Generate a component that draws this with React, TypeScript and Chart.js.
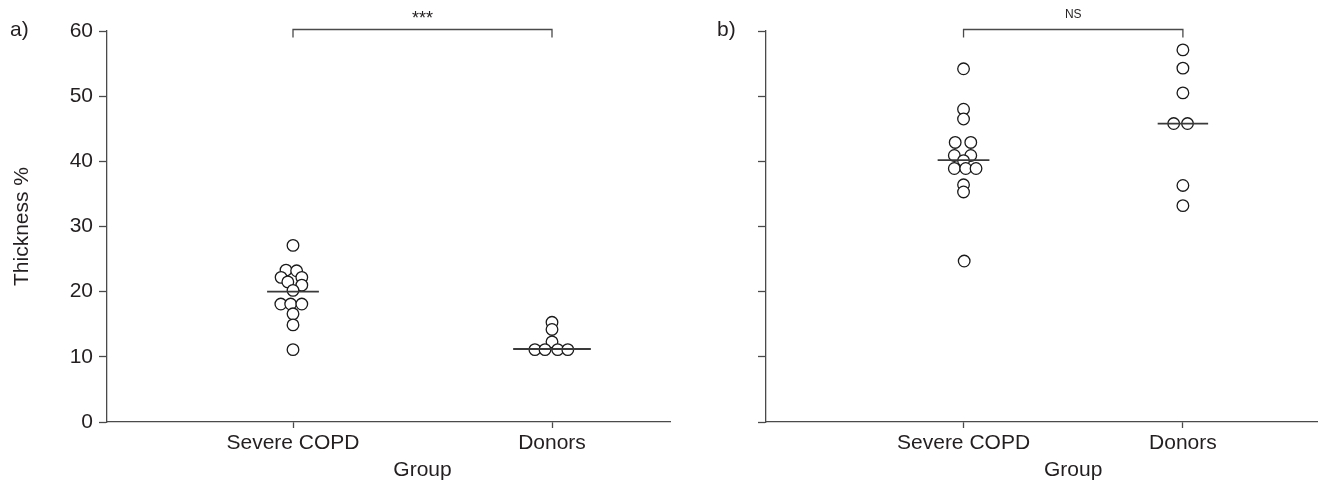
import React, { useEffect, useRef } from 'react';
import { Chart, registerables } from 'chart.js';

Chart.register(...registerables);

// ---------- data ----------
const categories = ['Severe COPD', 'Donors'];
const yTicks = [0, 10, 20, 30, 40, 50, 60];

// panel a
const copdA = [27.1, 23.3, 23.2, 22.2, 22.2, 21.5, 21.0, 20.2, 18.1, 18.1, 18.1, 16.6, 14.9, 11.1];
const copdAJitter = [0, -0.027, 0.014, -0.046, 0.034, -0.02, 0.034, 0, -0.047, -0.009, 0.034, 0, 0, 0];
const donorsA = [15.3, 14.2, 12.3, 11.1, 11.1, 11.1, 11.1];
const donorsAJitter = [0, 0, 0, -0.066, -0.027, 0.022, 0.061];
const mediansA = [20.0, 11.2];
const sigA = '***';

// panel b
const copdB = [54.2, 48.0, 46.5, 42.9, 42.9, 40.9, 40.9, 40.1, 38.9, 38.9, 38.9, 36.4, 35.3, 24.7];
const copdBJitter = [0, 0, 0, -0.038, 0.033, -0.042, 0.033, 0, -0.042, 0.01, 0.057, 0, 0, 0.003];
const donorsB = [57.1, 54.3, 50.5, 45.8, 45.8, 36.3, 33.2];
const donorsBJitter = [0, 0, 0, -0.042, 0.021, 0, 0];
const mediansB = [40.2, 45.8];
const sigB = 'NS';

// ---------- style ----------
const FONT = "'Liberation Sans', Arial, Helvetica, sans-serif";
const INK = '#231f20';
const AXIS = '#4a4a4a';

type Panel = {
  panel: string;
  panelX: number;
  copd: number[];
  copdJ: number[];
  donors: number[];
  donorsJ: number[];
  medians: number[];
  halfW: number[];
  sig: string;
  sigSize: number;
  sigY: number;
  xMin: number;
  xMax: number;
  yWidth: number;
  padRight: number;
  showYLabels: boolean;
  yTitle: string;
};

const annotPlugin = {
  id: 'annot',
  afterDraw(chart: any, _args: any, opts: any) {
    const { ctx, chartArea, scales } = chart;
    const x = scales.x;
    ctx.save();
    ctx.fillStyle = INK;
    ctx.font = `21px ${FONT}`;
    ctx.textBaseline = 'alphabetic';
    ctx.textAlign = 'left';
    ctx.fillText(opts.panel, opts.panelX, 36);
    ctx.textAlign = 'center';
    ctx.fillText('Group', x.getPixelForValue(1.5), 475.5);
    if (opts.yTitle) {
      ctx.save();
      ctx.translate(28, (chartArea.top + chartArea.bottom) / 2);
      ctx.rotate(-Math.PI / 2);
      ctx.fillText(opts.yTitle, 0, 0);
      ctx.restore();
    }
    const x1 = x.getPixelForValue(1);
    const x2 = x.getPixelForValue(2);
    const yb = chartArea.top - 1.5;
    ctx.strokeStyle = AXIS;
    ctx.lineWidth = 1.3;
    ctx.beginPath();
    ctx.moveTo(x1, yb + 8);
    ctx.lineTo(x1, yb);
    ctx.lineTo(x2, yb);
    ctx.lineTo(x2, yb + 8);
    ctx.stroke();
    ctx.font = `${opts.sigSize}px ${FONT}`;
    ctx.textBaseline = 'middle';
    ctx.fillText(opts.sig, (x1 + x2) / 2, opts.sigY);
    ctx.restore();
  },
};

function makeConfig(p: Panel): any {
  const medianDs = (i: number) => ({
    type: 'line',
    data: [
      { x: i + 1 - p.halfW[i], y: p.medians[i] },
      { x: i + 1 + p.halfW[i], y: p.medians[i] },
    ],
    showLine: true,
    borderColor: '#3a3a3a',
    borderWidth: 1.8,
    pointRadius: 0,
    order: 0,
  });
  const pointDs = (vals: number[], jit: number[], cat: number) => ({
    type: 'scatter',
    data: vals.map((v, i) => ({ x: cat + jit[i], y: v })),
    pointRadius: 5.8,
    pointBackgroundColor: '#ffffff',
    pointBorderColor: '#1a1a1a',
    pointBorderWidth: 1.3,
    showLine: false,
    order: 1,
  });
  return {
    type: 'scatter',
    data: {
      datasets: [
        medianDs(0),
        medianDs(1),
        pointDs(p.copd, p.copdJ, 1),
        pointDs(p.donors, p.donorsJ, 2),
      ],
    },
    options: {
      responsive: false,
      animation: false,
      events: [],
      layout: { padding: { left: 0, right: p.padRight, top: 31, bottom: 0 } },
      plugins: {
        legend: { display: false },
        tooltip: { enabled: false },
        annot: {
          panel: p.panel,
          panelX: p.panelX,
          sig: p.sig,
          sigSize: p.sigSize,
          sigY: p.sigY,
          yTitle: p.yTitle,
        },
      },
      scales: {
        x: {
          type: 'linear',
          min: p.xMin,
          max: p.xMax,
          afterBuildTicks: (s: any) => {
            s.ticks = categories.map((_, i) => ({ value: i + 1 }));
          },
          afterFit: (s: any) => {
            s.height = 61;
          },
          ticks: {
            callback: (v: any) => categories[Math.round(v) - 1] ?? '',
            font: { size: 21, family: FONT },
            color: INK,
            padding: 3,
            maxRotation: 0,
            autoSkip: false,
          },
          grid: {
            drawOnChartArea: false,
            drawTicks: true,
            tickLength: 6,
            tickColor: AXIS,
            tickWidth: 1.3,
          },
          border: { color: AXIS, width: 1.3 },
        },
        y: {
          type: 'linear',
          min: 0,
          max: 60,
          afterBuildTicks: (s: any) => {
            s.ticks = yTicks.map((v) => ({ value: v }));
          },
          afterFit: (s: any) => {
            s.width = p.yWidth;
          },
          ticks: {
            display: p.showYLabels,
            font: { size: 21, family: FONT },
            color: INK,
            padding: 6,
          },
          grid: {
            drawOnChartArea: false,
            drawTicks: true,
            tickLength: 8,
            tickColor: AXIS,
            tickWidth: 1.3,
          },
          border: { color: AXIS, width: 1.3 },
        },
      },
    },
    plugins: [annotPlugin],
  };
}

const panelA: Panel = {
  panel: 'a)',
  panelX: 10,
  copd: copdA,
  copdJ: copdAJitter,
  donors: donorsA,
  donorsJ: donorsAJitter,
  medians: mediansA,
  halfW: [0.1, 0.15],
  sig: sigA,
  sigSize: 18,
  sigY: 19,
  xMin: 1 - 186 / 259,
  xMax: 2 + 118 / 259,
  yWidth: 107,
  padRight: 30,
  showYLabels: true,
  yTitle: 'Thickness %',
};

const panelB: Panel = {
  panel: 'b)',
  panelX: 17,
  copd: copdB,
  copdJ: copdBJitter,
  donors: donorsB,
  donorsJ: donorsBJitter,
  medians: mediansB,
  halfW: [0.118, 0.115],
  sig: sigB,
  sigSize: 12,
  sigY: 15,
  xMin: 1 - 199 / 221,
  xMax: 2 + 136 / 221,
  yWidth: 66,
  padRight: 3,
  showYLabels: false,
  yTitle: '',
};

export default function App() {
  const refA = useRef<HTMLCanvasElement>(null);
  const refB = useRef<HTMLCanvasElement>(null);
  useEffect(() => {
    const a = new Chart(refA.current as HTMLCanvasElement, makeConfig(panelA));
    const b = new Chart(refB.current as HTMLCanvasElement, makeConfig(panelB));
    return () => {
      a.destroy();
      b.destroy();
    };
  }, []);
  return (
    <div style={{ position: 'fixed', left: 0, top: 0, width: 1325, height: 483, background: '#fff' }}>
      <canvas ref={refA} width={700} height={483} style={{ position: 'absolute', left: 0, top: 0, width: 700, height: 483 }} />
      <canvas ref={refB} width={625} height={483} style={{ position: 'absolute', left: 700, top: 0, width: 625, height: 483 }} />
    </div>
  );
}
